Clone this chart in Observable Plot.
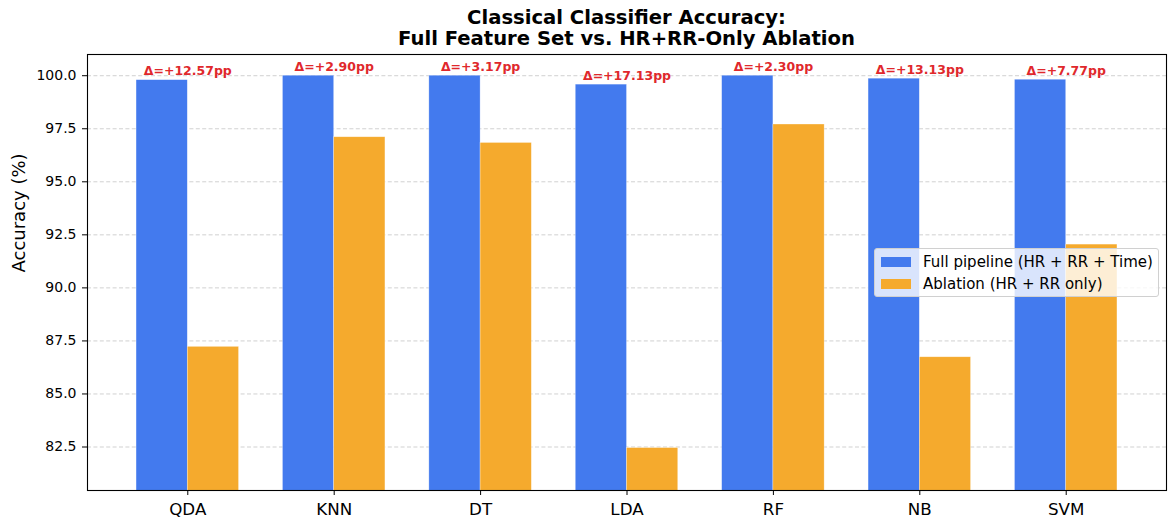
<!DOCTYPE html>
<html>
<head>
<meta charset="utf-8">
<script src="https://cdn.jsdelivr.net/npm/d3@7"></script>
<script src="https://cdn.jsdelivr.net/npm/@observablehq/plot@0.6"></script>
<style>
  html, body { margin: 0; padding: 0; background: #fff; }
  body { width: 1176px; height: 526px; position: relative; font-family: "DejaVu Sans", sans-serif; overflow: hidden; }
  #title { box-sizing: border-box; height: 50px; padding-top: 6.8px; margin-left: 87px; width: 1079px; text-align: center; font-weight: bold; font-size: 19.6px; line-height: 21.5px; color: #000; white-space: nowrap; }
  #legend { position: absolute; left: 874px; top: 248px; width: 285px; height: 49px; box-sizing: border-box; background: rgba(255,255,255,0.8); border: 1px solid #d0d0d0; border-radius: 3px; font-size: 15px; color: #000; }
  .item { position: absolute; left: 6px; display: flex; align-items: center; white-space: nowrap; }
  .swatch { width: 30px; height: 10px; margin-right: 12px; }
  #chart svg [aria-label^="x-axis"] text { font-size: 16.7px !important; }
</style>
</head>
<body>
<div id="title">Classical Classifier Accuracy:<br>Full Feature Set vs. HR+RR-Only Ablation</div>
<div id="chart"></div>
<div id="legend"></div>
<script>
const categories = ["QDA", "KNN", "DT", "LDA", "RF", "NB", "SVM"];
const fullAcc = [99.79, 100.0, 100.0, 99.58, 100.0, 99.86, 99.81];
const ablationAcc = [87.22, 97.10, 96.83, 82.45, 97.70, 86.73, 92.04];
const deltaLabels = ["Δ=+12.57pp", "Δ=+2.90pp", "Δ=+3.17pp", "Δ=+17.13pp", "Δ=+2.30pp", "Δ=+13.13pp", "Δ=+7.77pp"];
const yTicks = [82.5, 85.0, 87.5, 90.0, 92.5, 95.0, 97.5, 100.0];
const seriesNames = ["Full pipeline (HR + RR + Time)", "Ablation (HR + RR only)"];
const seriesColors = ["#437aee", "#f5aa2d"];

const rows = categories.map((c, i) => ({
  i, c, full: fullAcc[i], abl: ablationAcc[i], label: deltaLabels[i],
  top: Math.max(fullAcc[i], ablationAcc[i])
}));
const barW = 0.35;

const chart = Plot.plot({
  width: 1176,
  height: 476,
  marginLeft: 87,
  marginRight: 10,
  marginTop: 4,
  marginBottom: 36,
  style: { fontFamily: "DejaVu Sans, sans-serif", fontSize: "14px", color: "#000", background: "transparent" },
  x: {
    domain: [-0.685, 6.685],
    ticks: d3.range(categories.length),
    tickFormat: i => categories[i],
    tickSize: 5,
    tickPadding: 8,
    label: null
  },
  y: {
    domain: [80.45, 101],
    ticks: yTicks,
    tickFormat: d3.format(".1f"),
    tickSize: 5,
    tickPadding: 6,
    label: null
  },
  marks: [
    Plot.ruleY(yTicks, { stroke: "#cccccc", strokeWidth: 0.9, strokeDasharray: "4,2.4" }),
    Plot.rectY(rows, { x1: d => d.i - barW, x2: "i", y1: 0, y2: "full", fill: seriesColors[0], stroke: "white", strokeWidth: 0.6, strokeOpacity: 0.5, clip: true }),
    Plot.rectY(rows, { x1: "i", x2: d => d.i + barW, y1: 0, y2: "abl", fill: seriesColors[1], stroke: "white", strokeWidth: 0.6, strokeOpacity: 0.5, clip: true }),
    Plot.text(rows, { x: "i", y: "top", text: "label", lineAnchor: "bottom", dy: -5, fill: "#e0282c", fontWeight: "bold", fontSize: 12.5 }),
    Plot.text(["Accuracy (%)"], { frameAnchor: "left", rotate: -90, dx: -68, fontSize: 18, fill: "#000" }),
    Plot.frame({ stroke: "#000", strokeWidth: 1.1 })
  ]
});
document.getElementById("chart").appendChild(chart);

const legend = document.getElementById("legend");
seriesNames.forEach((name, k) => {
  const item = document.createElement("div");
  item.className = "item";
  item.style.top = (k === 0 ? 3 : 25) + "px";
  item.style.height = "20px";
  const sw = document.createElement("div");
  sw.className = "swatch";
  sw.style.background = seriesColors[k];
  const t = document.createElement("span");
  t.textContent = name;
  item.appendChild(sw);
  item.appendChild(t);
  legend.appendChild(item);
});
</script>
</body>
</html>
